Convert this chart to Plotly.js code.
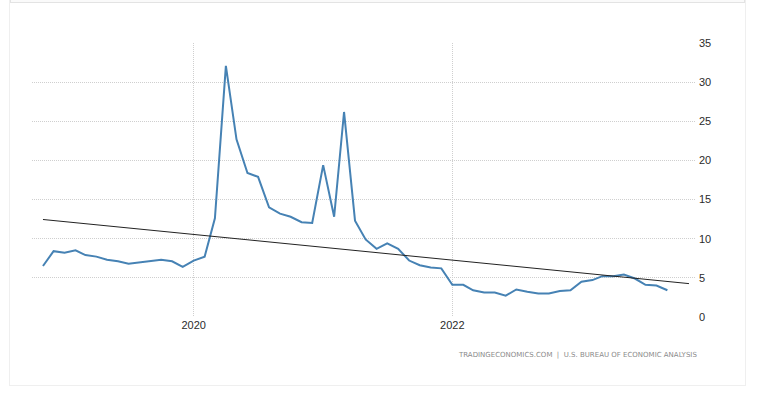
<!DOCTYPE html>
<html>
<head>
<meta charset="utf-8">
<script src="https://cdn.plot.ly/plotly-3.0.1.min.js"></script>
<style>
  html, body { margin: 0; padding: 0; background: #fff; }
  #wrap { position: relative; width: 758px; height: 394px; overflow: hidden; }
  #topbar { position: absolute; left: 10px; top: -2px; width: 733px; height: 3px; background: #fafafa; border: 1px solid #e3e3e3; }
  #frame { position: absolute; left: 9px; top: 0px; width: 735px; height: 385px; border-left: 1px solid #efefef; border-right: 1px solid #efefef; border-bottom: 1px solid #efefef; }
  #chart { position: absolute; left: 0; top: 0; width: 758px; height: 394px; }
</style>
</head>
<body>
<div id="wrap">
  <div id="frame"></div>
  <div id="topbar"></div>
  <div id="chart"></div>
</div>
<script>
// Monthly personal saving rate (%), Nov 2018 - Sep 2023
const months = [
  '2018-11-01','2018-12-01',
  '2019-01-01','2019-02-01','2019-03-01','2019-04-01','2019-05-01','2019-06-01',
  '2019-07-01','2019-08-01','2019-09-01','2019-10-01','2019-11-01','2019-12-01',
  '2020-01-01','2020-02-01','2020-03-01','2020-04-01','2020-05-01','2020-06-01',
  '2020-07-01','2020-08-01','2020-09-01','2020-10-01','2020-11-01','2020-12-01',
  '2021-01-01','2021-02-01','2021-03-01','2021-04-01','2021-05-01','2021-06-01',
  '2021-07-01','2021-08-01','2021-09-01','2021-10-01','2021-11-01','2021-12-01',
  '2022-01-01','2022-02-01','2022-03-01','2022-04-01','2022-05-01','2022-06-01',
  '2022-07-01','2022-08-01','2022-09-01','2022-10-01','2022-11-01','2022-12-01',
  '2023-01-01','2023-02-01','2023-03-01','2023-04-01','2023-05-01','2023-06-01',
  '2023-07-01','2023-08-01','2023-09-01'
];
const savingRate = [
  6.5, 8.4,
  8.2, 8.5, 7.9, 7.7, 7.3, 7.1, 6.8, 7.0, 7.2, 7.3, 7.1, 6.4,
  7.2, 7.7, 12.6, 32.1, 22.7, 18.4, 17.9, 14.0, 13.2, 12.8, 12.1, 12.0,
  19.4, 12.8, 26.2, 12.3, 9.9, 8.7, 9.4, 8.7, 7.2, 6.6, 6.3, 6.2,
  4.1, 4.1, 3.4, 3.1, 3.1, 2.7, 3.5, 3.2, 3.0, 3.0, 3.3, 3.4,
  4.5, 4.7, 5.2, 5.2, 5.4, 4.9, 4.1, 4.0, 3.4
];
// Linear trend line end points
const trendDates = ['2018-11-01', '2023-11-01'];
const trendValues = [12.45, 4.25];

const yTicks = [0, 5, 10, 15, 20, 25, 30, 35];
const sourceText = 'TRADINGECONOMICS.COM  |  U.S. BUREAU OF ECONOMIC ANALYSIS';

const labelFont = { family: '"Liberation Sans", Arial, sans-serif', size: 11, color: '#2b2b2b' };

const data = [
  {
    x: months, y: savingRate, type: 'scatter', mode: 'lines',
    line: { color: '#4682B4', width: 2 }, hoverinfo: 'skip'
  },
  {
    x: trendDates, y: trendValues, type: 'scatter', mode: 'lines',
    line: { color: '#222222', width: 1 }, hoverinfo: 'skip'
  }
];

const layout = {
  width: 758, height: 394,
  margin: { l: 32, r: 63, t: 43, b: 77, pad: 0 },
  paper_bgcolor: 'rgba(0,0,0,0)', plot_bgcolor: 'rgba(0,0,0,0)',
  showlegend: false,
  xaxis: {
    type: 'date',
    range: ['2018-10-01', '2023-11-18'],
    tick0: '2020-01-01', dtick: 'M24', tickformat: '%Y',
    showgrid: true, gridcolor: '#cfcfcf', griddash: '1px,1px', gridwidth: 1,
    zeroline: false, showline: false, ticks: '',
    tickfont: labelFont
  },
  yaxis: {
    side: 'right',
    range: [-0.02, 35.02],
    tickvals: yTicks, ticktext: yTicks.map(String),
    showgrid: true, gridcolor: '#cfcfcf', griddash: '1px,1px', gridwidth: 1,
    zeroline: false, showline: false, ticks: '',
    ticklabelstandoff: 3,
    tickfont: labelFont
  },
  annotations: [{
    text: sourceText, xref: 'paper', yref: 'paper',
    x: 1.006, y: -0.139, xanchor: 'right', yanchor: 'middle',
    showarrow: false,
    font: { family: '"DejaVu Sans", Verdana, sans-serif', size: 7, color: '#8a8a8a' }
  }]
};

Plotly.newPlot('chart', data, layout, { displayModeBar: false, staticPlot: true });
</script>
</body>
</html>
